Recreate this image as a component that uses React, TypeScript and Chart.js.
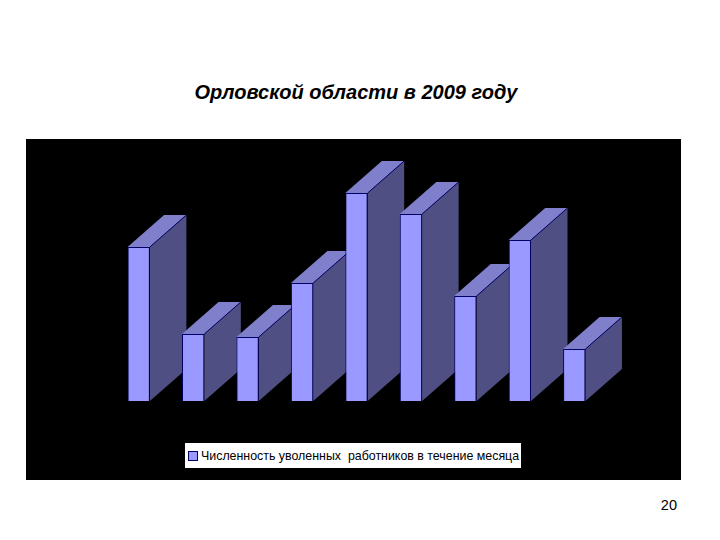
import { useEffect, useRef } from 'react'
import { Chart, registerables } from 'chart.js'
Chart.register(...registerables)

const TITLE = 'Орловской области в 2009 году'
const SERIES = 'Численность уволенных  работников в течение месяца'
const PAGE_NO = '20'
const months = ['янв', 'фев', 'мар', 'апр', 'май', 'июн', 'июл', 'авг', 'сен']
const dismissed = [154, 67, 64, 118, 208, 187, 105, 161, 52]

const FRONT = '#9999ff', SIDE = '#4f4f84', TOP = '#7f7fcc', EDGE = '#000066'
const FONT = "'Liberation Sans', Arial, sans-serif"

// fake 3D: side and top faces hang off each bar the library has placed
const bars3d = {
  id: 'bars3d',
  beforeDatasetsDraw(chart: Chart) {
    const { ctx } = chart
    const dx = 36.5, dy = 32
    chart.getDatasetMeta(0).data.forEach((el: any) => {
      const { x, y, base, width } = el.getProps(['x', 'y', 'base', 'width'], true)
      const l = x - width / 2, r = x + width / 2
      ctx.save()
      ctx.fillStyle = SIDE
      ctx.beginPath()
      ctx.moveTo(r, y); ctx.lineTo(r + dx, y - dy); ctx.lineTo(r + dx, base - dy); ctx.lineTo(r, base)
      ctx.closePath(); ctx.fill()
      ctx.fillStyle = TOP
      ctx.beginPath()
      ctx.moveTo(l, y); ctx.lineTo(l + dx, y - dy); ctx.lineTo(r + dx, y - dy); ctx.lineTo(r, y)
      ctx.closePath(); ctx.fill()
      ctx.strokeStyle = EDGE
      ctx.lineWidth = 1
      ctx.beginPath()
      ctx.moveTo(r, y); ctx.lineTo(r + dx, y - dy)
      ctx.stroke()
      ctx.restore()
    })
  },
}

export default function App() {
  const ref = useRef<HTMLCanvasElement>(null)

  useEffect(() => {
    if (!ref.current) return
    const chart = new Chart(ref.current, {
      type: 'bar',
      data: { labels: months, datasets: [{ label: SERIES, data: dismissed, backgroundColor: FRONT, borderColor: EDGE, borderWidth: 1, categoryPercentage: 1, barPercentage: 0.41 }] },
      options: {
        animation: false,
        responsive: true,
        maintainAspectRatio: false,
        layout: { padding: { left: 85.5, right: 79.5, top: 22, bottom: 79 } },
        plugins: { legend: { display: false }, title: { display: false }, tooltip: { enabled: false } },
        scales: {
          x: { display: false },
          y: { display: false, min: 0, max: 240 },
        },
      },
      plugins: [bars3d],
    })
    return () => chart.destroy()
  }, [])

  return (
    <div style={{ position: 'absolute', left: 0, top: 0, width: 720, height: 540, background: '#fff', fontFamily: FONT, color: '#000', overflow: 'hidden' }}>
      <div style={{ position: 'absolute', left: 0, width: 712, top: 81, textAlign: 'center', fontSize: 20, fontWeight: 700, fontStyle: 'italic', whiteSpace: 'nowrap' }}>{TITLE}</div>
      <div style={{ position: 'absolute', left: 26, top: 139, width: 655, height: 341, background: '#000' }}>
        <canvas ref={ref} />
      </div>
      <div style={{ position: 'absolute', left: 185, top: 443, width: 336, height: 25, background: '#fff', display: 'flex', alignItems: 'center', fontSize: 12.4, whiteSpace: 'pre' }}>
        <div style={{ width: 10, height: 10, marginLeft: 3, marginRight: 3, background: FRONT, border: `1px solid ${EDGE}`, boxSizing: 'border-box' }}></div>
        {SERIES}
      </div>
      <div style={{ position: 'absolute', right: 43, top: 497, fontSize: 14.5 }}>{PAGE_NO}</div>
    </div>
  )
}
